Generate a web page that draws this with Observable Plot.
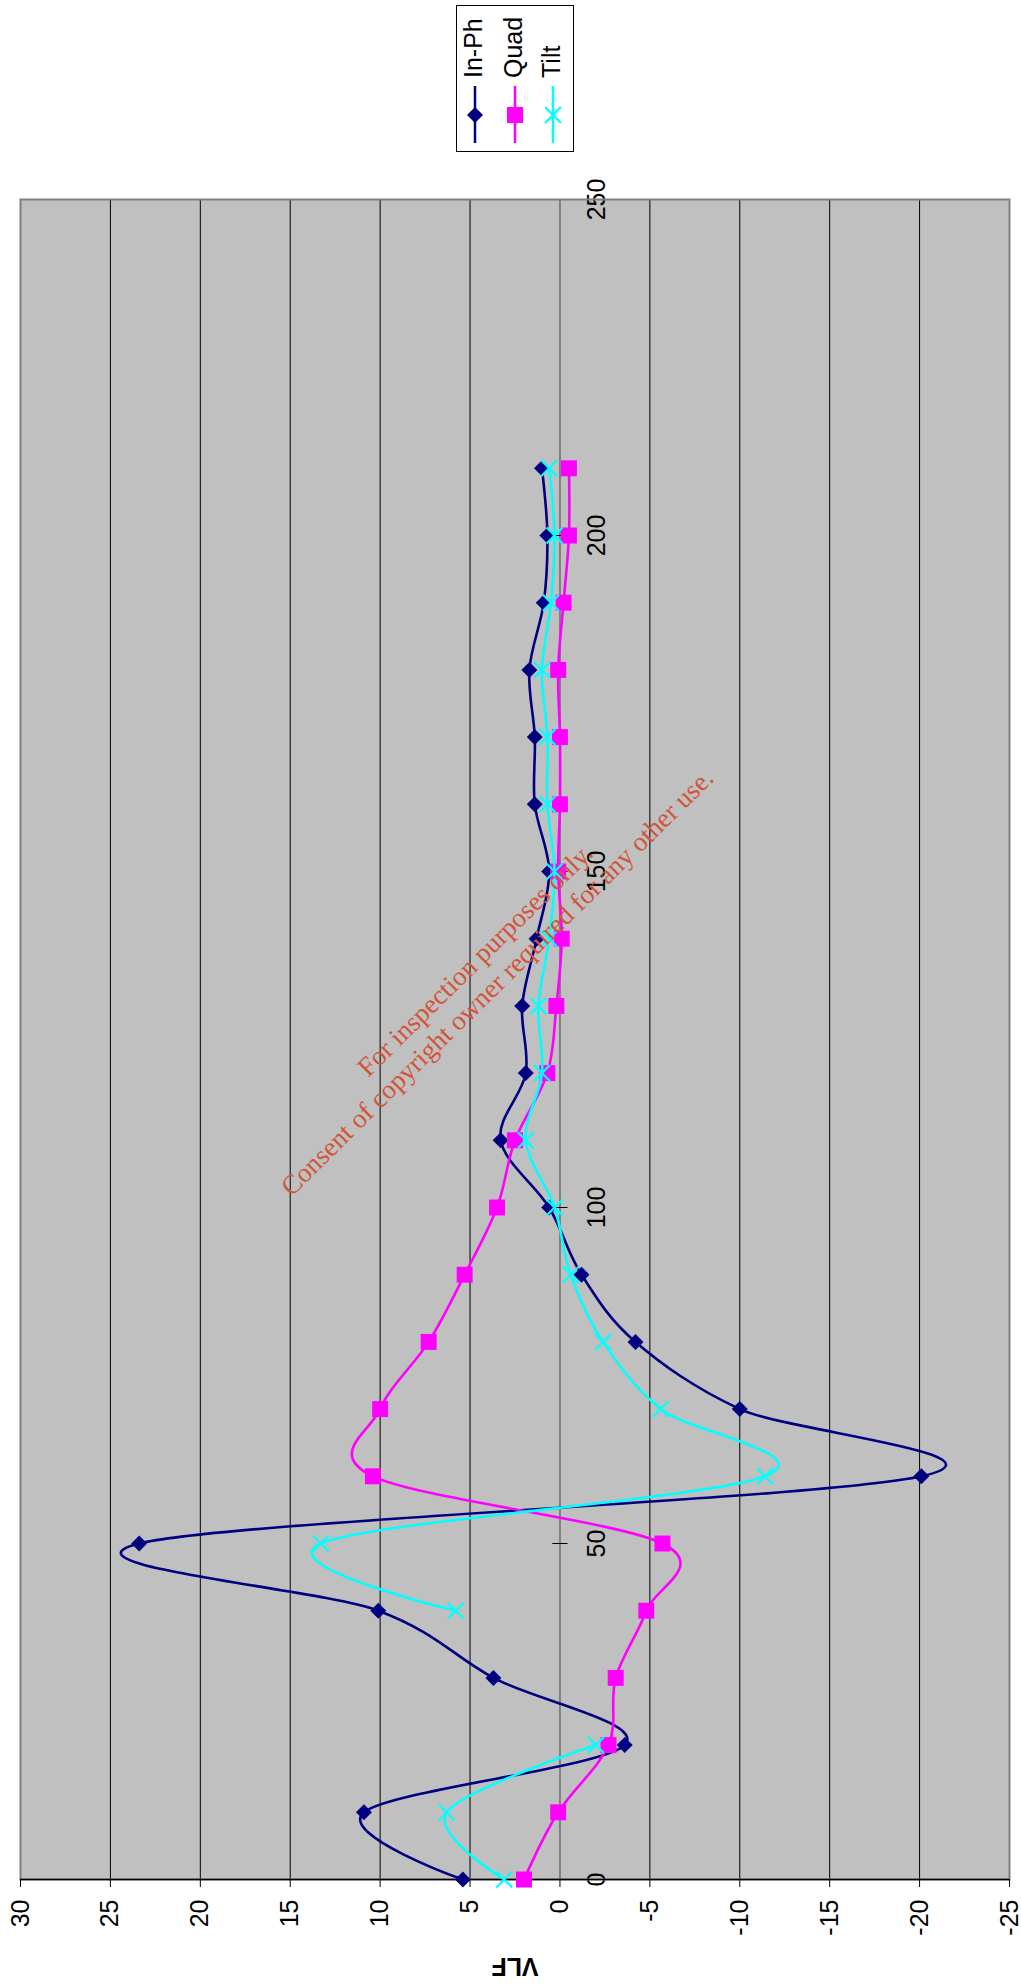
<!DOCTYPE html>
<html><head><meta charset="utf-8">
<script src="https://cdn.jsdelivr.net/npm/d3@7"></script>
<script src="https://cdn.jsdelivr.net/npm/@observablehq/plot@0.6"></script>
<style>
body{margin:0;background:#fff;}
#wrap{position:relative;width:1021px;height:1986px;overflow:hidden;}
#wrap svg{display:block}
.overlay{position:absolute;left:0;top:0;pointer-events:none}
</style></head><body><div id="wrap"></div>
<script>
// ---- data (distance along line vs VLF response) ----
const distance = [0,10,20,30,40,50,60,70,80,90,100,110,120,130,140,150,160,170,180,190,200,210];
const inPh = [5.4,10.9,-3.6,3.7,10.1,23.4,-20.1,-10.0,-4.2,-1.2,0.6,3.3,1.9,2.1,1.3,0.6,1.4,1.4,1.7,0.9,0.7,1.0];
const quad = [2.0,0.1,-2.7,-3.1,-4.8,-5.7,10.4,10.0,7.3,5.3,3.5,2.5,0.7,0.2,-0.1,0.1,0.0,0.0,0.1,-0.2,-0.5,-0.5];
const tilt = [3.1,6.3,-2.0,NaN,5.8,13.3,-11.4,-5.6,-2.4,-0.6,0.3,1.9,1.0,1.2,0.6,0.3,0.7,0.7,1.0,0.5,0.3,0.6];
const seriesNames = ["In-Ph","Quad","Tilt"];
const seriesColors = ["#000080","#FF00FF","#00FFFF"];
const seriesSymbols = ["diamond2","square","times"];
const vlfTicks = [30,25,20,15,10,5,0,-5,-10,-15,-20,-25];
const distTicks = [0,50,100,150,200,250];
const axisTitle = "VLF";
const watermark = ["For inspection purposes only.","Consent of copyright owner required for any other use."];

const seriesValues = [inPh, quad, tilt];
const font = "'Liberation Sans', Arial, Helvetica, sans-serif";
const W = 1021, H = 1986;

const symSize = {diamond2: 7.2, square: 9, times: 7.3};

const seriesMarks = seriesNames.flatMap((name, i) => {
  const rows = distance.map((d, j) => ({distance: d, vlf: seriesValues[i][j]}));
  const pts = rows.filter(r => Number.isFinite(r.vlf));
  const sym = seriesSymbols[i];
  const dotOpts = sym === "times"
    ? {stroke: seriesColors[i], strokeWidth: 2.2, fill: "none"}
    : {fill: seriesColors[i], stroke: "none"};
  return [
    Plot.line(rows, {x: "vlf", y: "distance", stroke: seriesColors[i], strokeWidth: 2.6, curve: "cardinal", tension: 0}),
    Plot.dot(pts, {x: "vlf", y: "distance", symbol: () => sym, r: symSize[sym], ...dotOpts})
  ];
});

const chart = Plot.plot({
  width: W,
  height: H,
  marginLeft: 20,
  marginRight: 12,
  marginTop: 199,
  marginBottom: 107,
  style: {fontFamily: font, background: "transparent", overflow: "visible"},
  x: {domain: [30, -25], axis: null},
  y: {domain: [0, 250], axis: null},
  symbol: {type: "identity"},
  marks: [
    Plot.frame({fill: "#C0C0C0"}),
    Plot.ruleX(vlfTicks.filter(v => v !== 0 && v !== 30 && v !== -25), {stroke: "#000", strokeWidth: 1}),
    Plot.ruleX([0], {stroke: "#808080", strokeWidth: 2}),
    Plot.ruleY(distTicks, {y: d => d, x1: () => 0.4, x2: () => -0.45, stroke: "#000", strokeWidth: 1}),
    Plot.text(distTicks, {x: () => 0, y: d => d, text: d => String(d), dx: 37, rotate: -90, fontSize: 25, fill: "#000"}),
    Plot.frame({stroke: "#808080", strokeWidth: 2}),
    Plot.ruleY([0], {stroke: "#000", strokeWidth: 1.5}),
    Plot.axisX(vlfTicks, {anchor: "bottom", tickSize: 8, tickPadding: 12, tickRotate: -90, fontSize: 25, tickFormat: d => String(d), label: null, stroke: "#000", fill: "#000"}),
    ...seriesMarks,
    Plot.text([axisTitle], {frameAnchor: "bottom", dy: 78, rotate: 180, fontSize: 25, fontWeight: "bold", fill: "#000"})
  ]
});
const wrap = document.getElementById("wrap");
wrap.appendChild(chart);

// ---- legend (rotated, top) ----
const leg = d3.select(wrap).append("svg").attr("class", "overlay").attr("width", W).attr("height", 160);
leg.append("rect").attr("x", 456.5).attr("y", 5.5).attr("width", 117).attr("height", 146)
  .attr("fill", "#fff").attr("stroke", "#000").attr("stroke-width", 1);
const legX = [475, 515, 553];
const d3sym = {diamond2: d3.symbolDiamond2, square: d3.symbolSquare, times: d3.symbolTimes};
seriesNames.forEach((name, i) => {
  const g = leg.append("g");
  g.append("line").attr("x1", legX[i]).attr("x2", legX[i]).attr("y1", 86).attr("y2", 143)
    .attr("stroke", seriesColors[i]).attr("stroke-width", 2.5);
  const sym = seriesSymbols[i];
  const r = symSize[sym];
  const p = g.append("path").attr("transform", `translate(${legX[i]},115)`)
    .attr("d", d3.symbol(d3sym[sym], r * r * Math.PI)());
  if (sym === "times") p.attr("fill", "none").attr("stroke", seriesColors[i]).attr("stroke-width", 2.2);
  else p.attr("fill", seriesColors[i]);
  g.append("text").attr("transform", `translate(${legX[i]},78) rotate(-90)`)
    .attr("text-anchor", "start").attr("dominant-baseline", "middle")
    .attr("font-family", font).attr("font-size", 25).attr("fill", "#000").text(name);
});

// ---- watermark overlay ----
const wm = d3.select(wrap).append("svg").attr("class", "overlay").attr("width", W).attr("height", H);
const wmPos = [[477, 962], [499, 984]];
watermark.forEach((t, i) => {
  wm.append("text").attr("transform", `translate(${wmPos[i][0]},${wmPos[i][1]}) rotate(-44.6)`)
    .attr("text-anchor", "middle").attr("dominant-baseline", "middle")
    .attr("font-family", "'Liberation Serif', 'Times New Roman', serif").attr("font-size", 27)
    .attr("fill", "#d2553a").text(t);
});
</script></body></html>
